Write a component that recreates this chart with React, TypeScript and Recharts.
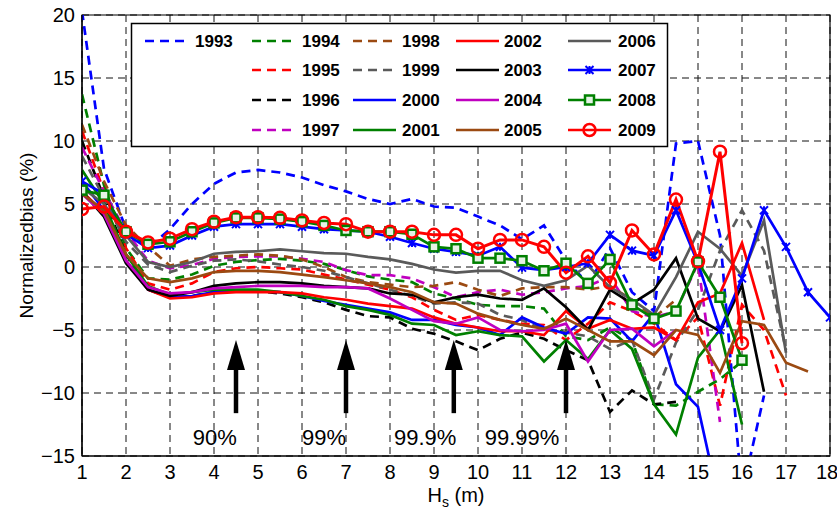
import React from 'react';
import {
  LineChart,
  Line,
  XAxis,
  YAxis,
  CartesianGrid,
  ReferenceLine,
  ReferenceDot,
  ReferenceArea,
  Label,
} from 'recharts';

const FONT = '"Liberation Sans", Arial, Helvetica, sans-serif';

// Hs bins (m), one value every 0.5 m
const hs = [
  1, 1.5, 2, 2.5, 3, 3.5, 4, 4.5, 5, 5.5, 6, 6.5, 7, 7.5, 8, 8.5, 9, 9.5, 10, 10.5, 11, 11.5, 12,
  12.5, 13, 13.5, 14, 14.5, 15, 15.5, 16, 16.5, 17, 17.5, 18,
];

// normalized bias (%) per year
const y1993 = [20.3, 7.8, 3.0, 1.5, 3.0, 5.0, 6.6, 7.5, 7.7, 7.5, 7.1, 6.5, 6.0, 5.4, 5.0, 5.4, 4.8, 4.7, 4.0, 3.3, 2.2, 3.3, 0.5, -1.3, 1.5, -2.0, -3.5, 9.8, 10.0, 2.5, -18, -10.2];
const y1994 = [13.7, 6.5, 1.5, -0.9, -1.0, -0.6, 0.1, 0.4, 0.55, 0.65, 0.5, 0.25, -0.25, -0.75, -1.0, -1.2, -2.1, -2.5, -3.0, -3.1, -3.1, -3.3, -5.5, -5.8, -4.8, -5.8, -10.9, -11.0, -9.9, -8.9, -7.5];
const y1995 = [10.8, 6.0, 1.5, -1.3, -1.8, -1.3, -0.4, -0.1, 0.0, -0.1, -0.2, -0.6, -1.0, -1.4, -1.8, -2.4, -3.4, -4.2, -3.8, -4.2, -4.5, -4.6, -5.8, -4.5, -2.8, -3.5, -4.5, -5.8, -4.0, -11.0, -3.0, -5.0, -10.2];
const y1996 = [10.0, 5.5, 1.0, -1.8, -2.4, -2.3, -2.0, -1.9, -1.9, -2.1, -2.4, -2.8, -3.4, -3.9, -4.0, -4.9, -5.3, -5.9, -6.6, -5.7, -5.2, -5.7, -6.6, -7.4, -11.5, -9.8, -10.9, -10.7];
const y1997 = [9.5, 6.0, 2.8, 0.5, -0.1, 0.15, 0.65, 0.8, 0.85, 0.85, 0.65, 0.4, -0.25, -0.65, -0.65, -0.9, -1.6, -2.4, -2.0, -1.8, -2.2, -2.0, -1.7, -1.5, -0.8, -3.5, -4.0, -3.5, 0.3, -12.3];
const y1998 = [11.3, 6.8, 3.3, 1.6, 0.1, 0.6, 0.8, 0.9, 1.0, 0.9, 0.6, 0.0, -0.8, -1.2, -1.4, -1.6, -1.5, -1.2, -1.8, -2.3, -1.7, -1.6, -1.6, -1.8, -1.5, -2.6, -4.0, -2.6];
const y1999 = [8.8, 5.5, 2.0, 0.2, -0.4, 0.1, 0.5, 0.6, 0.45, 0.2, 0.0, -0.3, -0.8, -1.3, -1.8, -2.3, -2.9, -2.8, -2.9, -3.8, -4.2, -5.0, -5.2, -5.5, -6.5, -5.8, -10.5, -6.0, -3.4, 1.3, 4.5, 1.3, -6.6];
const y2000 = [6.8, 4.5, 0.5, -1.8, -2.4, -2.3, -2.0, -1.9, -1.9, -2.0, -2.3, -2.7, -3.0, -3.3, -3.6, -4.2, -4.2, -4.6, -4.8, -5.4, -4.0, -4.8, -5.3, -4.0, -4.1, -5.9, -3.7, -9.3, -11.1, -19];
const y2001 = [7.7, 5.0, 1.0, -1.5, -2.2, -2.0, -1.8, -1.8, -1.8, -2.0, -2.3, -2.6, -3.1, -3.4, -3.8, -4.5, -4.6, -5.4, -5.1, -5.4, -5.5, -7.5, -5.8, -7.3, -5.0, -6.5, -10.9, -13.3, -7.2, -5.0, -12.5];
const y2002 = [6.0, 4.3, 0.5, -1.8, -2.5, -2.4, -2.1, -2.0, -2.0, -2.0, -2.1, -2.4, -2.6, -2.9, -3.1, -3.3, -4.0, -4.5, -4.8, -5.1, -5.1, -5.4, -3.5, -4.9, -4.2, -4.9, -4.8, -5.8, -2.8, -2.1, 1.9, -4.2];
const y2003 = [6.0, 4.0, 0.3, -1.8, -2.3, -2.0, -1.5, -1.3, -1.2, -1.2, -1.3, -1.5, -1.6, -1.7, -2.1, -2.2, -2.8, -2.4, -2.2, -2.5, -2.6, -1.7, -3.2, -5.0, -1.8, -2.9, -1.8, 0.7, -4.1, -5.1, -1.45, -9.9];
const y2004 = [5.8, 4.2, 0.5, -1.6, -2.1, -2.0, -1.7, -1.6, -1.5, -1.5, -1.5, -1.6, -1.6, -1.7, -2.5, -3.4, -4.3, -4.5, -4.0, -5.0, -5.1, -5.0, -4.5, -7.5, -5.0, -4.9, -6.3, -5.0];
const y2005 = [5.8, 4.5, 1.0, -0.9, -1.2, -0.9, -0.4, -0.3, -0.3, -0.4, -0.6, -0.8, -1.05, -1.3, -1.6, -2.0, -2.8, -2.9, -3.7, -4.2, -4.6, -4.9, -4.1, -5.0, -5.9, -5.9, -7.0, -5.0, -5.4, -8.4, -4.3, -4.6, -7.6, -8.3];
const y2006 = [6.3, 5.0, 2.5, 0.4, 0.0, 0.4, 1.05, 1.2, 1.25, 1.4, 1.25, 1.1, 1.05, 0.8, 0.6, 0.25, -0.2, -0.45, -0.3, -0.3, -1.05, -1.5, -1.05, 0.1, -1.6, -2.6, -3.8, -0.8, 2.8, 1.45, -0.7, 3.7, -6.8];
const y2007 = [6.8, 5.8, 2.6, 1.5, 1.7, 2.5, 3.2, 3.4, 3.4, 3.4, 3.2, 3.0, 2.9, 2.8, 2.4, 1.9, 1.45, 1.2, 0.9, 1.6, -0.05, -0.25, 0.0, 0.3, 2.55, 1.3, 0.9, 4.5, 0.3, -5.0, -0.9, 4.5, 1.6, -2.0, -4.0];
const y2008 = [6.1, 5.7, 2.8, 1.8, 2.0, 2.8, 3.5, 3.9, 3.9, 3.8, 3.6, 3.3, 2.9, 2.8, 2.8, 2.6, 1.6, 1.45, 0.7, 0.7, 0.5, -0.3, 0.3, -1.3, 0.6, -3.0, -4.1, -3.5, 0.4, -2.4, -7.4];
const y2009 = [4.6, 4.8, 2.8, 1.95, 2.25, 3.0, 3.6, 3.95, 3.95, 3.9, 3.7, 3.5, 3.4, 2.8, 2.8, 2.8, 2.55, 2.55, 1.45, 2.15, 2.15, 1.6, -0.45, 0.85, -1.25, 2.9, 1.0, 5.35, 0.45, 9.15, -6.05];

const xTicks = [1, 2, 3, 4, 5, 6, 7, 8, 9, 10, 11, 12, 13, 14, 15, 16, 17, 18];
const yTicks = [-15, -10, -5, 0, 5, 10, 15, 20];

// exceedance arrows and their labels
const arrowX = [4.5, 7, 9.45, 12];
const arrowLabels = ['90%', '99%', '99.9%', '99.99%'];
const arrowLabelX = [4.02, 6.5, 8.8, 11.0];

const BLUE = '#0000FF';
const GREEN = '#008000';
const RED = '#FF0000';
const BLACK = '#000000';
const MAGENTA = '#C000C0';
const BROWN = '#9B4A12';
const GRAY = '#5A5A5A';

type Marker = 'none' | 'x' | 'square' | 'circle';
interface Series {
  key: string;
  values: number[];
  color: string;
  dashed: boolean;
  marker: Marker;
}

const series: Series[] = [
  { key: '1993', values: y1993, color: BLUE, dashed: true, marker: 'none' },
  { key: '1994', values: y1994, color: GREEN, dashed: true, marker: 'none' },
  { key: '1995', values: y1995, color: RED, dashed: true, marker: 'none' },
  { key: '1996', values: y1996, color: BLACK, dashed: true, marker: 'none' },
  { key: '1997', values: y1997, color: MAGENTA, dashed: true, marker: 'none' },
  { key: '1998', values: y1998, color: BROWN, dashed: true, marker: 'none' },
  { key: '1999', values: y1999, color: GRAY, dashed: true, marker: 'none' },
  { key: '2000', values: y2000, color: BLUE, dashed: false, marker: 'none' },
  { key: '2001', values: y2001, color: GREEN, dashed: false, marker: 'none' },
  { key: '2002', values: y2002, color: RED, dashed: false, marker: 'none' },
  { key: '2003', values: y2003, color: BLACK, dashed: false, marker: 'none' },
  { key: '2004', values: y2004, color: MAGENTA, dashed: false, marker: 'none' },
  { key: '2005', values: y2005, color: BROWN, dashed: false, marker: 'none' },
  { key: '2006', values: y2006, color: GRAY, dashed: false, marker: 'none' },
  { key: '2007', values: y2007, color: BLUE, dashed: false, marker: 'x' },
  { key: '2008', values: y2008, color: GREEN, dashed: false, marker: 'square' },
  { key: '2009', values: y2009, color: RED, dashed: false, marker: 'circle' },
];

const rows = hs.map((x, i) => {
  const r: Record<string, number | null> = { x };
  series.forEach((s) => {
    r[s.key] = i < s.values.length ? s.values[i] : null;
  });
  return r;
});

const legendCols = [
  ['1993'],
  ['1994', '1995', '1996', '1997'],
  ['1998', '1999', '2000', '2001'],
  ['2002', '2003', '2004', '2005'],
  ['2006', '2007', '2008', '2009'],
];

const DASH = '9 6';

function markerShape(marker: Marker, color: string, cx: number, cy: number, key?: any) {
  if (marker === 'x') {
    return (
      <path
        key={key}
        d={`M${cx - 4},${cy - 4}L${cx + 4},${cy + 4}M${cx - 4},${cy + 4}L${cx + 4},${cy - 4}M${cx},${cy - 4}L${cx},${cy + 4}`}
        stroke={color}
        strokeWidth={2}
      />
    );
  }
  if (marker === 'square') {
    return <rect key={key} x={cx - 4.5} y={cy - 4.5} width={9} height={9} fill="#e6f2e6" stroke={color} strokeWidth={2.5} />;
  }
  if (marker === 'circle') {
    return <circle key={key} cx={cx} cy={cy} r={6} fill="none" stroke={color} strokeWidth={2.5} />;
  }
  return <g key={key} />;
}

function makeDot(s: Series) {
  if (s.marker === 'none') return false;
  return (props: any) => {
    const { cx, cy, index } = props;
    if (cx == null || cy == null || props.value == null) return <g key={`d${s.key}-${index}`} />;
    return markerShape(s.marker, s.color, cx, cy, `d${s.key}-${index}`);
  };
}

function XTitle(props: any) {
  const vb = props.viewBox || { x: 82, y: 456, width: 748, height: 40 };
  const cx = vb.x + vb.width / 2;
  return (
    <text x={cx} y={vb.y + 46} textAnchor="middle" fontSize={20} fontFamily={FONT} fill="#000">
      H<tspan fontSize={14} dy={5}>s</tspan>
      <tspan dy={-5}> (m)</tspan>
    </text>
  );
}

function YTitle(props: any) {
  const vb = props.viewBox || { x: 0, y: 15, width: 82, height: 441 };
  const cy = vb.y + vb.height / 2;
  const cx = 26;
  return (
    <text
      x={cx}
      y={cy}
      transform={`rotate(-90 ${cx} ${cy})`}
      textAnchor="middle"
      dominantBaseline="central"
      fontSize={19}
      fontFamily={FONT}
      fill="#000"
    >
      Normalizedbias (%)
    </text>
  );
}

const fmt = (v: number) => (v < 0 ? '\u2212' + Math.abs(v) : String(v));

function LegendBox() {
  const colLine = [14, 121, 222, 325, 437];
  const colText = [64, 171, 271, 373, 487];
  const rowY = [18, 47, 77, 107];
  const byKey: Record<string, Series> = {};
  series.forEach((s) => (byKey[s.key] = s));
  return (
    <svg
      width={537}
      height={124}
      style={{ position: 'absolute', left: 131, top: 23, background: '#fff', overflow: 'visible' }}
    >
      <rect x={0.5} y={0.5} width={536} height={123} fill="#fff" stroke="#000" strokeWidth={1.5} />
      {legendCols.map((col, ci) =>
        col.map((k, ri) => {
          const s = byKey[k];
          const y = rowY[ri];
          const x0 = colLine[ci];
          return (
            <g key={k}>
              <line
                x1={x0}
                x2={x0 + 43}
                y1={y}
                y2={y}
                stroke={s.color}
                strokeWidth={2.5}
                strokeDasharray={s.dashed ? DASH : undefined}
              />
              {markerShape(s.marker, s.color, x0 + 21.5, y)}
              <text
                x={colText[ci]}
                y={y}
                dominantBaseline="central"
                fontSize={17}
                fontWeight="bold"
                fontFamily={FONT}
                fill="#000"
              >
                {k}
              </text>
            </g>
          );
        })
      )}
    </svg>
  );
}

const ArrowHead = (props: any) => {
  const { cx, cy } = props;
  if (cx == null || cy == null) return <g />;
  return <polygon points={`${cx},${cy} ${cx - 9},${cy + 30} ${cx + 9},${cy + 30}`} fill="#000" />;
};

const makeArrowText = (t: string) => (props: any) => {
  const { cx, cy } = props;
  if (cx == null || cy == null) return <g />;
  return (
    <text x={cx} y={cy} textAnchor="middle" dominantBaseline="central" fontSize={22} fontFamily={FONT} fill="#000">
      {t}
    </text>
  );
};

export default function App() {
  return (
    <div style={{ position: 'absolute', left: 0, top: 0, width: 837, height: 513, background: '#fff' }}>
      <LineChart width={837} height={513} data={rows} margin={{ top: 15, right: 7, bottom: 17, left: 0 }}>
        <CartesianGrid stroke="#111" strokeWidth={1} strokeDasharray="7 5" />
        <XAxis
          dataKey="x"
          type="number"
          domain={[1, 18]}
          ticks={xTicks}
          allowDataOverflow
          height={40}
          tickSize={0}
          tickMargin={9}
          tickLine={false}
          axisLine={{ stroke: '#000', strokeWidth: 1.2 }}
          tick={{ fontSize: 20, fill: '#000', fontFamily: FONT }}
        >
          <Label content={XTitle} />
        </XAxis>
        <YAxis
          type="number"
          domain={[-15, 20]}
          ticks={yTicks}
          allowDataOverflow
          width={82}
          tickSize={0}
          tickMargin={7}
          tickLine={false}
          tickFormatter={fmt}
          axisLine={{ stroke: '#000', strokeWidth: 1.2 }}
          tick={{ fontSize: 20, fill: '#000', fontFamily: FONT }}
        >
          <Label content={YTitle} />
        </YAxis>
        <ReferenceArea x1={1} x2={18} y1={-15} y2={20} fill="none" stroke="#000" strokeWidth={1.2} />
        {series.map((s) => (
          <Line
            key={s.key}
            dataKey={s.key}
            type="linear"
            stroke={s.color}
            strokeWidth={s.key === '2009' ? 3 : 2.7}
            strokeDasharray={s.dashed ? DASH : undefined}
            dot={makeDot(s)}
            activeDot={false}
            isAnimationActive={false}
          />
        ))}
        {arrowX.map((x) => (
          <ReferenceLine
            key={`shaft${x}`}
            segment={[
              { x, y: -11.6 },
              { x, y: -7.8 },
            ]}
            stroke="#000"
            strokeWidth={4.5}
          />
        ))}
        {arrowX.map((x) => (
          <ReferenceDot key={`head${x}`} x={x} y={-5.8} r={1} shape={ArrowHead} />
        ))}
        {arrowLabels.map((t, i) => (
          <ReferenceDot key={`lab${t}`} x={arrowLabelX[i]} y={-13.5} r={1} shape={makeArrowText(t)} />
        ))}
      </LineChart>
      <LegendBox />
    </div>
  );
}
